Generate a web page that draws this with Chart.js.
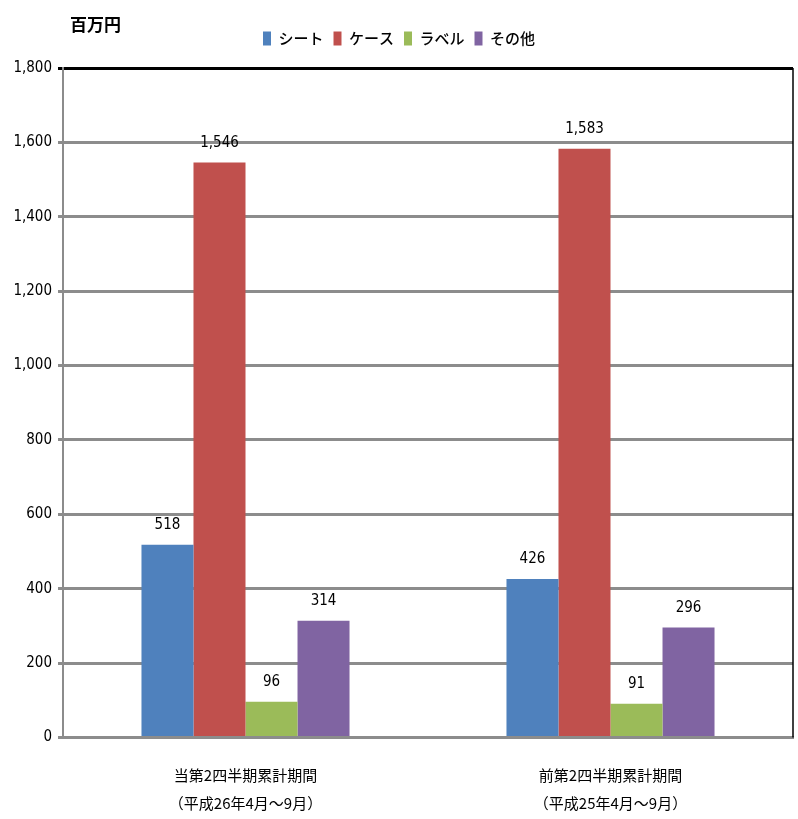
<!DOCTYPE html>
<html>
<head>
<meta charset="utf-8">
<script src="https://cdn.jsdelivr.net/npm/chart.js@4"></script>
<style>
  body { margin: 0; background: #fff; }
  #wrap { width: 798px; height: 819px; }
</style>
</head>
<body>
<div id="wrap"><canvas id="grafico"></canvas></div>
<script>
const periodos = [
    ['当第2四半期累計期間', '（平成26年4月～9月）'],
    ['前第2四半期累計期間', '（平成25年4月～9月）'],
];
const series = ['シート', 'ケース', 'ラベル', 'その他'];
const valSheet = [518, 426];
const valCase = [1546, 1583];
const valLabel = [96, 91];
const valOther = [314, 296];
const yTicks = [0, 200, 400, 600, 800, 1000, 1200, 1400, 1600, 1800];

const colores = ['#4F81BD', '#C0504D', '#9BBB59', '#8064A2'];
const valores = [valSheet, valCase, valLabel, valOther];
const narrow = '"DejaVu Sans Condensed", "DejaVu Sans", "Noto Sans CJK JP", sans-serif';
const cjk = '"Noto Sans CJK JP", sans-serif';

// etiquetas de valores, marco y unidad
const extras = {
    id: 'extras',
    beforeInit(chart) {
        const fit = chart.legend.fit;
        chart.legend.fit = function () {
            fit.call(this);
            this.height += 12;
        };
    },
    afterDatasetsDraw(chart) {
        const ctx = chart.ctx;
        ctx.save();
        ctx.fillStyle = '#000';
        ctx.font = 'condensed 15px ' + narrow;
        ctx.textAlign = 'center';
        ctx.textBaseline = 'bottom';
        chart.data.datasets.forEach((ds, i) => {
            chart.getDatasetMeta(i).data.forEach((bar, j) => {
                ctx.fillText(ds.data[j].toLocaleString('en-US'), bar.x, bar.y - 12);
            });
        });
        const a = chart.chartArea;
        ctx.strokeStyle = '#000';
        ctx.lineWidth = 1.5;
        ctx.beginPath();
        ctx.moveTo(a.right, a.top);
        ctx.lineTo(a.right, a.bottom);
        ctx.stroke();
        ctx.font = 'bold 17px ' + cjk;
        ctx.textAlign = 'left';
        ctx.textBaseline = 'middle';
        ctx.fillText('百万円', 70, 25);
        ctx.restore();
    }
};

const ctx = document.getElementById('grafico').getContext('2d');
new Chart(ctx, {
    type: 'bar',
    data: {
        labels: periodos,
        datasets: series.map((s, i) => ({
            label: s,
            data: valores[i],
            backgroundColor: colores[i],
            borderWidth: 0,
            categoryPercentage: 0.57,
            barPercentage: 1,
        })),
    },
    plugins: [extras],
    options: {
        responsive: true,
        maintainAspectRatio: false,
        animation: false,
        layout: { padding: { left: 5, right: 5, top: 21, bottom: -2 } },
        plugins: {
            legend: {
                position: 'top',
                labels: {
                    boxWidth: 8,
                    boxHeight: 14,
                    padding: 10,
                    color: '#000',
                    font: { family: cjk, size: 15, weight: 500 },
                },
            },
            tooltip: { enabled: false },
        },
        scales: {
            x: {
                afterFit: s => { s.height -= 12; },
                grid: { display: false },
                border: { display: true, color: '#8c8c8c', width: 3 },
                ticks: {
                    color: '#000',
                    font: { family: cjk, size: 15, lineHeight: 1.85 },
                    padding: 16,
                },
            },
            y: {
                min: 0,
                max: 1800,
                afterFit: s => { s.width = 58; },
                afterBuildTicks: s => { s.ticks = yTicks.map(v => ({ value: v })); },
                grid: {
                    color: c => c.tick && c.tick.value === 1800 ? '#000' : '#8c8c8c',
                    lineWidth: 3,
                    tickLength: 5,
                },
                border: { display: true, color: '#8c8c8c', width: 2 },
                ticks: {
                    color: '#000',
                    font: { family: narrow, size: 15, style: 'condensed' },
                    padding: 6,
                    callback: v => v.toLocaleString('en-US'),
                },
            },
        },
    },
});
</script>
</body>
</html>
